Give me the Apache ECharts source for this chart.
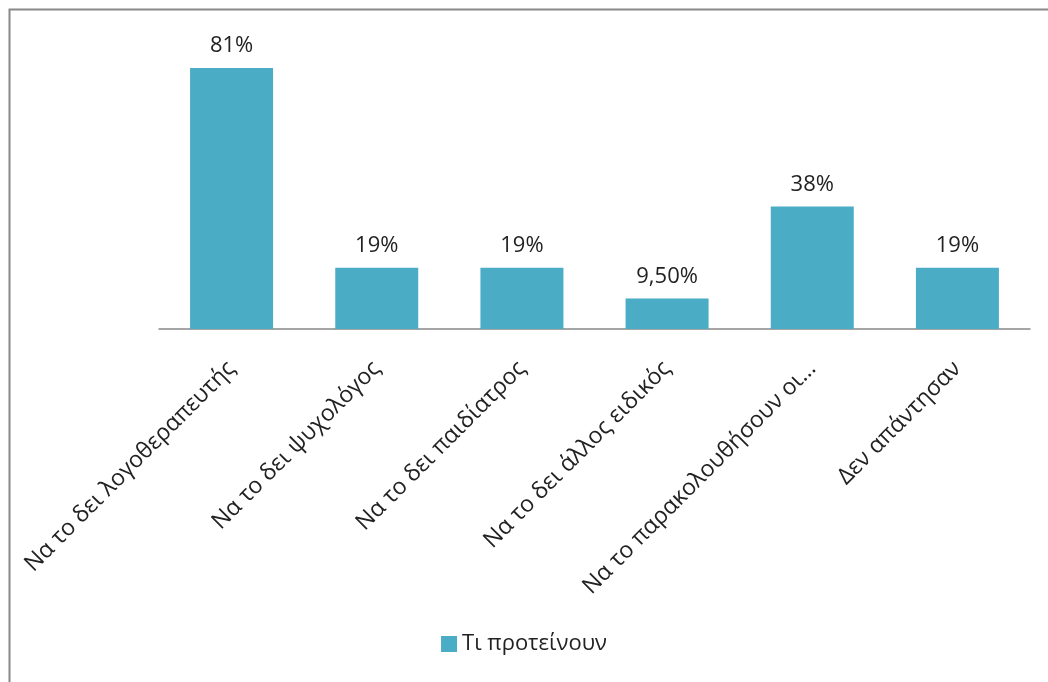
<!DOCTYPE html>
<html><head><meta charset="utf-8">
<script src="https://cdn.jsdelivr.net/npm/echarts@6/dist/echarts.min.js"></script>
<style>html,body{margin:0;padding:0;background:#fff}#c{width:1048px;height:682px}</style>
</head><body><div id="c"></div>
<script>
const categories = ["Να το δει λογοθεραπευτής","Να το δει ψυχολόγος","Να το δει παιδίατρος","Να το δει άλλος ειδικός","Να το παρακολουθήσουν οι…","Δεν απάντησαν"];
const values = [81, 19, 19, 9.5, 38, 19];
const valueLabels = ["81%","19%","19%","9,50%","38%","19%"];
const seriesName = "Τι προτείνουν";

const chart = echarts.init(document.getElementById('c'), null, {renderer:'canvas'});
const font = "'Open Sans', 'Noto Sans', sans-serif";
chart.setOption({
  animation:false,
  backgroundColor:'#fff',
  textStyle:{fontFamily:font},
  graphic:[{type:'rect',shape:{x:9.5,y:9.5,width:1100,height:700},style:{fill:null,stroke:'#888',lineWidth:2},silent:true}],
  legend:{bottom:22,left:'center',itemWidth:16,itemHeight:16,itemGap:6,icon:'rect',
    textStyle:{fontSize:22,color:'#222',fontFamily:font},data:[seriesName]},
  grid:{left:159,right:18,top:39,bottom:353,containLabel:false},
  xAxis:{type:'category',data:categories,
    axisLine:{lineStyle:{color:'#888',width:1.5}},axisTick:{show:false},
    axisLabel:{rotate:45,interval:0,margin:36,fontSize:23,color:'#222',fontFamily:font}},
  yAxis:{type:'value',min:0,max:90,show:false,splitLine:{show:false}},
  series:[{name:seriesName,type:'bar',data:values,barWidth:83,
    itemStyle:{color:'#4BACC6'},
    label:{show:true,position:'top',distance:11,fontSize:22,color:'#222',fontFamily:font,
      formatter:p=>valueLabels[p.dataIndex]}}]
});
</script></body></html>
